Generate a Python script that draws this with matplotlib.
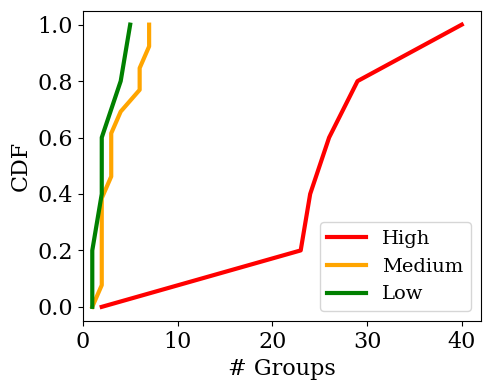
import matplotlib
matplotlib.use("Agg")
import matplotlib.pyplot as plt

plt.rcParams['font.family'] = ['DejaVu Serif']

high_x = [2, 23, 24, 26, 29, 40]
high_y = [0.0, 0.2, 0.4, 0.6, 0.8, 1.0]
medium_x = [1, 2, 2, 3, 3, 4, 6, 6, 7, 7]
medium_y = [0.0, 0.077, 0.385, 0.462, 0.615, 0.692, 0.769, 0.846, 0.923, 1.0]
low_x = [1, 1, 2, 2, 4, 5]
low_y = [0.0, 0.2, 0.4, 0.6, 0.8, 1.0]

fig, ax = plt.subplots(figsize=(4.9, 3.9), dpi=100)
ax.plot(high_x, high_y, color='red', lw=3, label='High')
ax.plot(medium_x, medium_y, color='orange', lw=3, label='Medium')
ax.plot(low_x, low_y, color='green', lw=3, label='Low')
ax.set_xlabel('# Groups', fontsize=16)
ax.set_ylabel('CDF', fontsize=16)
ax.tick_params(labelsize=16)
ax.set_xticks([0, 10, 20, 30, 40])
ax.set_xlim(0, 42)
ax.set_ylim(-0.05, 1.05)
ax.legend(fontsize=14, loc='lower right')
fig.subplots_adjust(left=0.169, right=0.981, top=0.973, bottom=0.177)
fig.savefig('out.png')
